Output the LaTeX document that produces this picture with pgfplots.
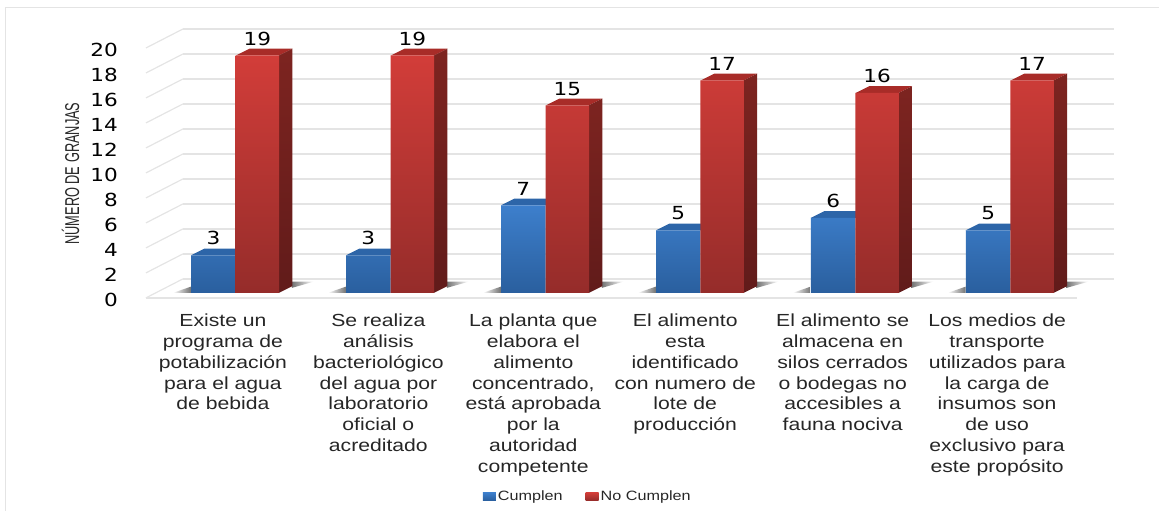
\documentclass[border=0pt]{standalone}
\usepackage{fontspec}
\usepackage{pgfplots}
\pgfplotsset{compat=1.18}
\setmainfont{Liberation Sans}
\newfontfamily\numfont[FakeStretch=1.2]{DejaVu Sans}
\newfontfamily\catfont[FakeStretch=1.21]{Liberation Sans}
\newfontfamily\legfont[FakeStretch=1.2]{Liberation Sans}
\newfontfamily\ylabfont[FakeStretch=0.64]{Liberation Sans}
\definecolor{gridc}{HTML}{E4E4E4}
\definecolor{blueT}{HTML}{3D7FCC}
\definecolor{blueB}{HTML}{2A5F9E}
\definecolor{blueTop}{HTML}{2D65A8}
\definecolor{redT}{HTML}{D23D39}
\definecolor{redB}{HTML}{952C2A}
\definecolor{redS}{HTML}{7D2420}
\definecolor{redSb}{HTML}{611B1A}
\definecolor{redTop}{HTML}{A82C28}
\pgfplotstableread{
x y
213.5 3
368.5 3
523.5 7
678.5 5
833.5 6
988.5 5
}\cumplen
\pgfplotstableread{
x y
257.5 19
412.5 19
567.5 15
722.5 17
877.5 16
1032.5 17
}\nocumplen
\pgfplotsset{
  poly/.style={forget plot, no marks, draw=none},
  val/.style={nodes near coords, every node near coord/.style={font=\numfont\fontsize{18}{18}\selectfont, anchor=south, inner sep=0pt, yshift=10pt, text=black, /pgf/number format/assume math mode=true}},
}
\begin{document}
\begin{tikzpicture}
\begin{axis}[
  at={(0pt,0pt)}, anchor=south west,
  scale only axis, width=1159pt, height=511pt,
  xmin=0, xmax=1159, ymin=-17.44, ymax=23.44,
  clip=false,
  axis line style={draw=none},
  tick style={draw=none},
  unbounded coords=jump,
  ytick={0,2,...,20},
  /pgf/number format/assume math mode=true,
  yticklabel style={font=\numfont\fontsize{18}{18}\selectfont, anchor=east, inner sep=0pt, xshift=118pt, yshift=-7pt},
  xtick={223,378.5,533.5,685.5,843,997.5},
  xticklabels={
    {Existe un\\programa de\\potabilización\\para el agua\\de bebida},
    {Se realiza\\análisis\\bacteriológico\\del agua por\\laboratorio\\oficial o\\acreditado},
    {La planta que\\elabora el\\alimento\\concentrado,\\está aprobada\\por la\\autoridad\\competente},
    {El alimento\\esta\\identificado\\con numero de\\lote de\\producción},
    {El alimento se\\almacena en\\silos cerrados\\o bodegas no\\accesibles a\\fauna nociva},
    {Los medios de\\transporte\\utilizados para\\la carga de\\insumos son\\de uso\\exclusivo para\\este propósito}},
  xticklabel style={font=\catfont\fontsize{17.5}{20.8}\selectfont, align=center, anchor=north, inner sep=0pt, yshift=197pt, text=black!85},
  legend style={at={(axis cs:588,-16.3)}, anchor=center, draw=none, fill=none, legend columns=2,
    font=\legfont\fontsize{13.5}{14}\selectfont, /tikz/every even column/.style={column sep=21pt}, text=black!85},
  legend cell align=left,
  legend image code/.code={\path[#1] (0pt,-4pt) rectangle (13pt,4pt);},
  bar width=44.5pt,
]
% frame of the picture
\addplot[poly, draw=gridc, line width=0.9pt] coordinates {(5,-17.44)(5,22.88)(1159,22.88)};
% back wall
\addplot[poly, draw=gridc, line width=1.8pt] coordinates {
(183,1.12)(1114,1.12)(nan,nan)(183,3.12)(1114,3.12)(nan,nan)(183,5.12)(1114,5.12)(nan,nan)
(183,7.12)(1114,7.12)(nan,nan)(183,9.12)(1114,9.12)(nan,nan)(183,11.12)(1114,11.12)(nan,nan)
(183,13.12)(1114,13.12)(nan,nan)(183,15.12)(1114,15.12)(nan,nan)(183,17.12)(1114,17.12)(nan,nan)
(183,19.12)(1114,19.12)(nan,nan)(183,21.12)(1114,21.12)};
% side wall
\addplot[poly, draw=gridc, line width=1.2pt] coordinates {
(146,-0.4)(183,1.12)(nan,nan)(146,1.6)(183,3.12)(nan,nan)(146,3.6)(183,5.12)(nan,nan)
(146,5.6)(183,7.12)(nan,nan)(146,7.6)(183,9.12)(nan,nan)(146,9.6)(183,11.12)(nan,nan)
(146,11.6)(183,13.12)(nan,nan)(146,13.6)(183,15.12)(nan,nan)(146,15.6)(183,17.12)(nan,nan)
(146,17.6)(183,19.12)(nan,nan)(146,19.6)(183,21.12)};
% floor front edge
\addplot[poly, draw=gridc, line width=1.8pt] coordinates {(146,-0.4)(1077,-0.4)};
% y label
\node[rotate=90, font=\ylabfont\fontsize{20}{20}\selectfont, text=black!85] at (axis cs:70.5,9.55) {NÚMERO DE GRANJAS};
% shadows
\addplot[poly, left color=white, right color=black!55] coordinates {(173,0)(191,0)(191,0.5)} --cycle;
\addplot[poly, left color=white, right color=black!55] coordinates {(328,0)(346,0)(346,0.5)} --cycle;
\addplot[poly, left color=white, right color=black!55] coordinates {(483,0)(501,0)(501,0.5)} --cycle;
\addplot[poly, left color=white, right color=black!55] coordinates {(638,0)(656,0)(656,0.5)} --cycle;
\addplot[poly, left color=white, right color=black!55] coordinates {(793,0)(811,0)(811,0.5)} --cycle;
\addplot[poly, left color=white, right color=black!55] coordinates {(948,0)(966,0)(966,0.5)} --cycle;
\addplot[poly, left color=black!55, right color=white] coordinates {(292,0.4)(292,0.9)(314,0.9)} --cycle;
\addplot[poly, left color=black!55, right color=white] coordinates {(447,0.4)(447,0.9)(469,0.9)} --cycle;
\addplot[poly, left color=black!55, right color=white] coordinates {(602,0.4)(602,0.9)(624,0.9)} --cycle;
\addplot[poly, left color=black!55, right color=white] coordinates {(757,0.4)(757,0.9)(779,0.9)} --cycle;
\addplot[poly, left color=black!55, right color=white] coordinates {(912,0.4)(912,0.9)(934,0.9)} --cycle;
\addplot[poly, left color=black!55, right color=white] coordinates {(1067,0.4)(1067,0.9)(1089,0.9)} --cycle;
% blue tops
\addplot[poly, fill=blueTop] coordinates {(191,3)(204.5,3.54)(249.5,3.54)(236,3)} --cycle;
\addplot[poly, fill=blueTop] coordinates {(346,3)(359.5,3.54)(404.5,3.54)(391,3)} --cycle;
\addplot[poly, fill=blueTop] coordinates {(501,7)(514.5,7.54)(559.5,7.54)(546,7)} --cycle;
\addplot[poly, fill=blueTop] coordinates {(656,5)(669.5,5.54)(714.5,5.54)(701,5)} --cycle;
\addplot[poly, fill=blueTop] coordinates {(811,6)(824.5,6.54)(869.5,6.54)(856,6)} --cycle;
\addplot[poly, fill=blueTop] coordinates {(966,5)(979.5,5.54)(1024.5,5.54)(1011,5)} --cycle;
% blue bars
\addplot[ybar, bar shift=0pt, draw=none, top color=blueT, bottom color=blueB, val] table[x=x,y=y] {\cumplen};
\addlegendentry{Cumplen}
% red tops and sides
\addplot[poly, fill=redTop] coordinates {(236,19)(249.5,19.54)(292.5,19.54)(279,19)} --cycle;
\addplot[poly, fill=redTop] coordinates {(391,19)(404.5,19.54)(447.5,19.54)(434,19)} --cycle;
\addplot[poly, fill=redTop] coordinates {(546,15)(559.5,15.54)(602.5,15.54)(589,15)} --cycle;
\addplot[poly, fill=redTop] coordinates {(701,17)(714.5,17.54)(757.5,17.54)(744,17)} --cycle;
\addplot[poly, fill=redTop] coordinates {(856,16)(869.5,16.54)(912.5,16.54)(899,16)} --cycle;
\addplot[poly, fill=redTop] coordinates {(1011,17)(1024.5,17.54)(1067.5,17.54)(1054,17)} --cycle;
\addplot[poly, top color=redS, bottom color=redSb] coordinates {(279,0)(292.5,0.54)(292.5,19.54)(279,19)} --cycle;
\addplot[poly, top color=redS, bottom color=redSb] coordinates {(434,0)(447.5,0.54)(447.5,19.54)(434,19)} --cycle;
\addplot[poly, top color=redS, bottom color=redSb] coordinates {(589,0)(602.5,0.54)(602.5,15.54)(589,15)} --cycle;
\addplot[poly, top color=redS, bottom color=redSb] coordinates {(744,0)(757.5,0.54)(757.5,17.54)(744,17)} --cycle;
\addplot[poly, top color=redS, bottom color=redSb] coordinates {(899,0)(912.5,0.54)(912.5,16.54)(899,16)} --cycle;
\addplot[poly, top color=redS, bottom color=redSb] coordinates {(1054,0)(1067.5,0.54)(1067.5,17.54)(1054,17)} --cycle;
% red bars
\addplot[ybar, bar shift=0pt, draw=none, top color=redT, bottom color=redB, bar width=43.5pt, val] table[x=x,y=y] {\nocumplen};
\addlegendentry{No Cumplen}
\end{axis}
\end{tikzpicture}
\end{document}
